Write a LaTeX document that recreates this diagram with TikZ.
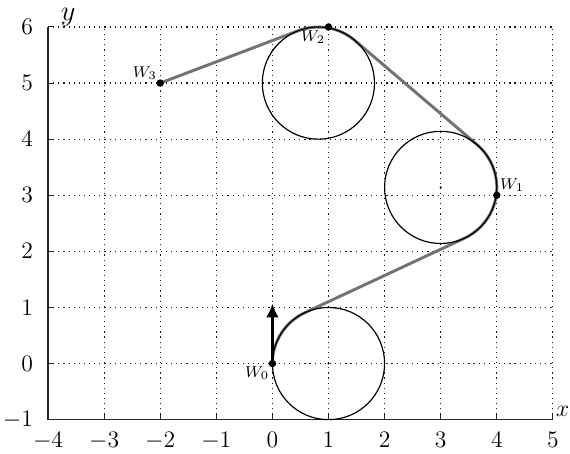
\documentclass[tikz,border=0pt]{standalone}
\usetikzlibrary{arrows.meta}
\begin{document}
\begin{tikzpicture}[
  gridline/.style={dotted, line width=0.6pt, black!90},
  axisline/.style={line width=0.6pt, black!85},
  tickline/.style={line width=0.5pt, black!85},
  dubins/.style={line width=1.5pt, black!55},
  turncircle/.style={line width=0.6pt, black},
  wpdot/.style={circle, fill=black, inner sep=0pt, minimum size=3.8pt},
  cdot/.style={circle, fill=black, inner sep=0pt, minimum size=1.2pt},
  wplabel/.style={font=\footnotesize, inner sep=1.5pt},
  ticklabel/.style={font=\large, inner sep=1pt},
  axislabel/.style={font=\Large, inner sep=0pt}
]
\useasboundingbox (-4.856,-1.604) rectangle (5.305,6.481);

% grid
\draw[gridline] (-4,-1) grid (5,6);

% axes
\coordinate (O) at (-4,-1);
\coordinate (XE) at (5,-1);
\coordinate (YE) at (-4,6);
\draw[axisline] (XE) -- (O) -- (YE);
\foreach \x in {-4,...,5} {
  \draw[tickline] (\x,-1) -- (\x,-0.91);
  \node[ticklabel, anchor=north] (tx\x) at ([yshift=-5pt]\x,-1) {$\x$};
}
\foreach \y in {-1,...,6} {
  \draw[tickline] (-4,\y) -- (-3.91,\y);
  \node[ticklabel, anchor=east] (ty\y) at ([xshift=-6.5pt]-4,\y) {$\y$};
}
\node[axislabel, font=\large, anchor=base west] (xl) at (5.05,-0.945) {$x$};
\node[axislabel, anchor=base west] (yl) at (-3.78,6.11) {$y$};

% centres and waypoints
\coordinate (CA) at (1,0);
\coordinate (CB) at (3,3.14);
\coordinate (CC) at (0.82,5);
\coordinate (W0) at (0,0);
\coordinate (W1) at (4,3);
\coordinate (W2) at (1,6);
\coordinate (W3) at (-2,5);

% tangent points
\coordinate (T1) at (0.577,0.906);
\coordinate (T2) at (3.423,2.234);
\coordinate (T3) at (3.649,3.900);
\coordinate (T4) at (1.469,5.760);
\coordinate (T5) at (0.465,5.935);

% Dubins path
\draw[dubins] (W0) arc[start angle=180, end angle=115, radius=1]
  -- (T2) arc[start angle=-65, end angle=49.5, radius=1]
  -- (T4) arc[start angle=49.5, end angle=110.8, radius=1]
  -- (W3);

% turning circles
\draw[turncircle] (CA) circle[radius=1];
\draw[turncircle] (CB) circle[radius=1];
\draw[turncircle] (CC) circle[radius=1];
\node[cdot] (ca) at (CA) {};
\node[cdot] (cb) at (CB) {};
\node[cdot] (cc) at (CC) {};

% heading arrow
\coordinate (H) at (0,1.07);
\draw[line width=1.3pt, -{Latex[length=7pt,width=6.5pt]}] (W0) -- (H);

% waypoints
\node[wpdot] (w0) at (W0) {};
\node[wpdot] (w1) at (W1) {};
\node[wpdot] (w2) at (W2) {};
\node[wpdot] (w3) at (W3) {};
\node[wplabel, anchor=north east] (l0) at (W0) {$W_0$};
\node[wplabel, anchor=south west] (l1) at (W1) {$W_1$};
\node[wplabel, anchor=north east] (l2) at (W2) {$W_2$};
\node[wplabel, anchor=south east] (l3) at (W3) {$W_3$};
\end{tikzpicture}
\end{document}
